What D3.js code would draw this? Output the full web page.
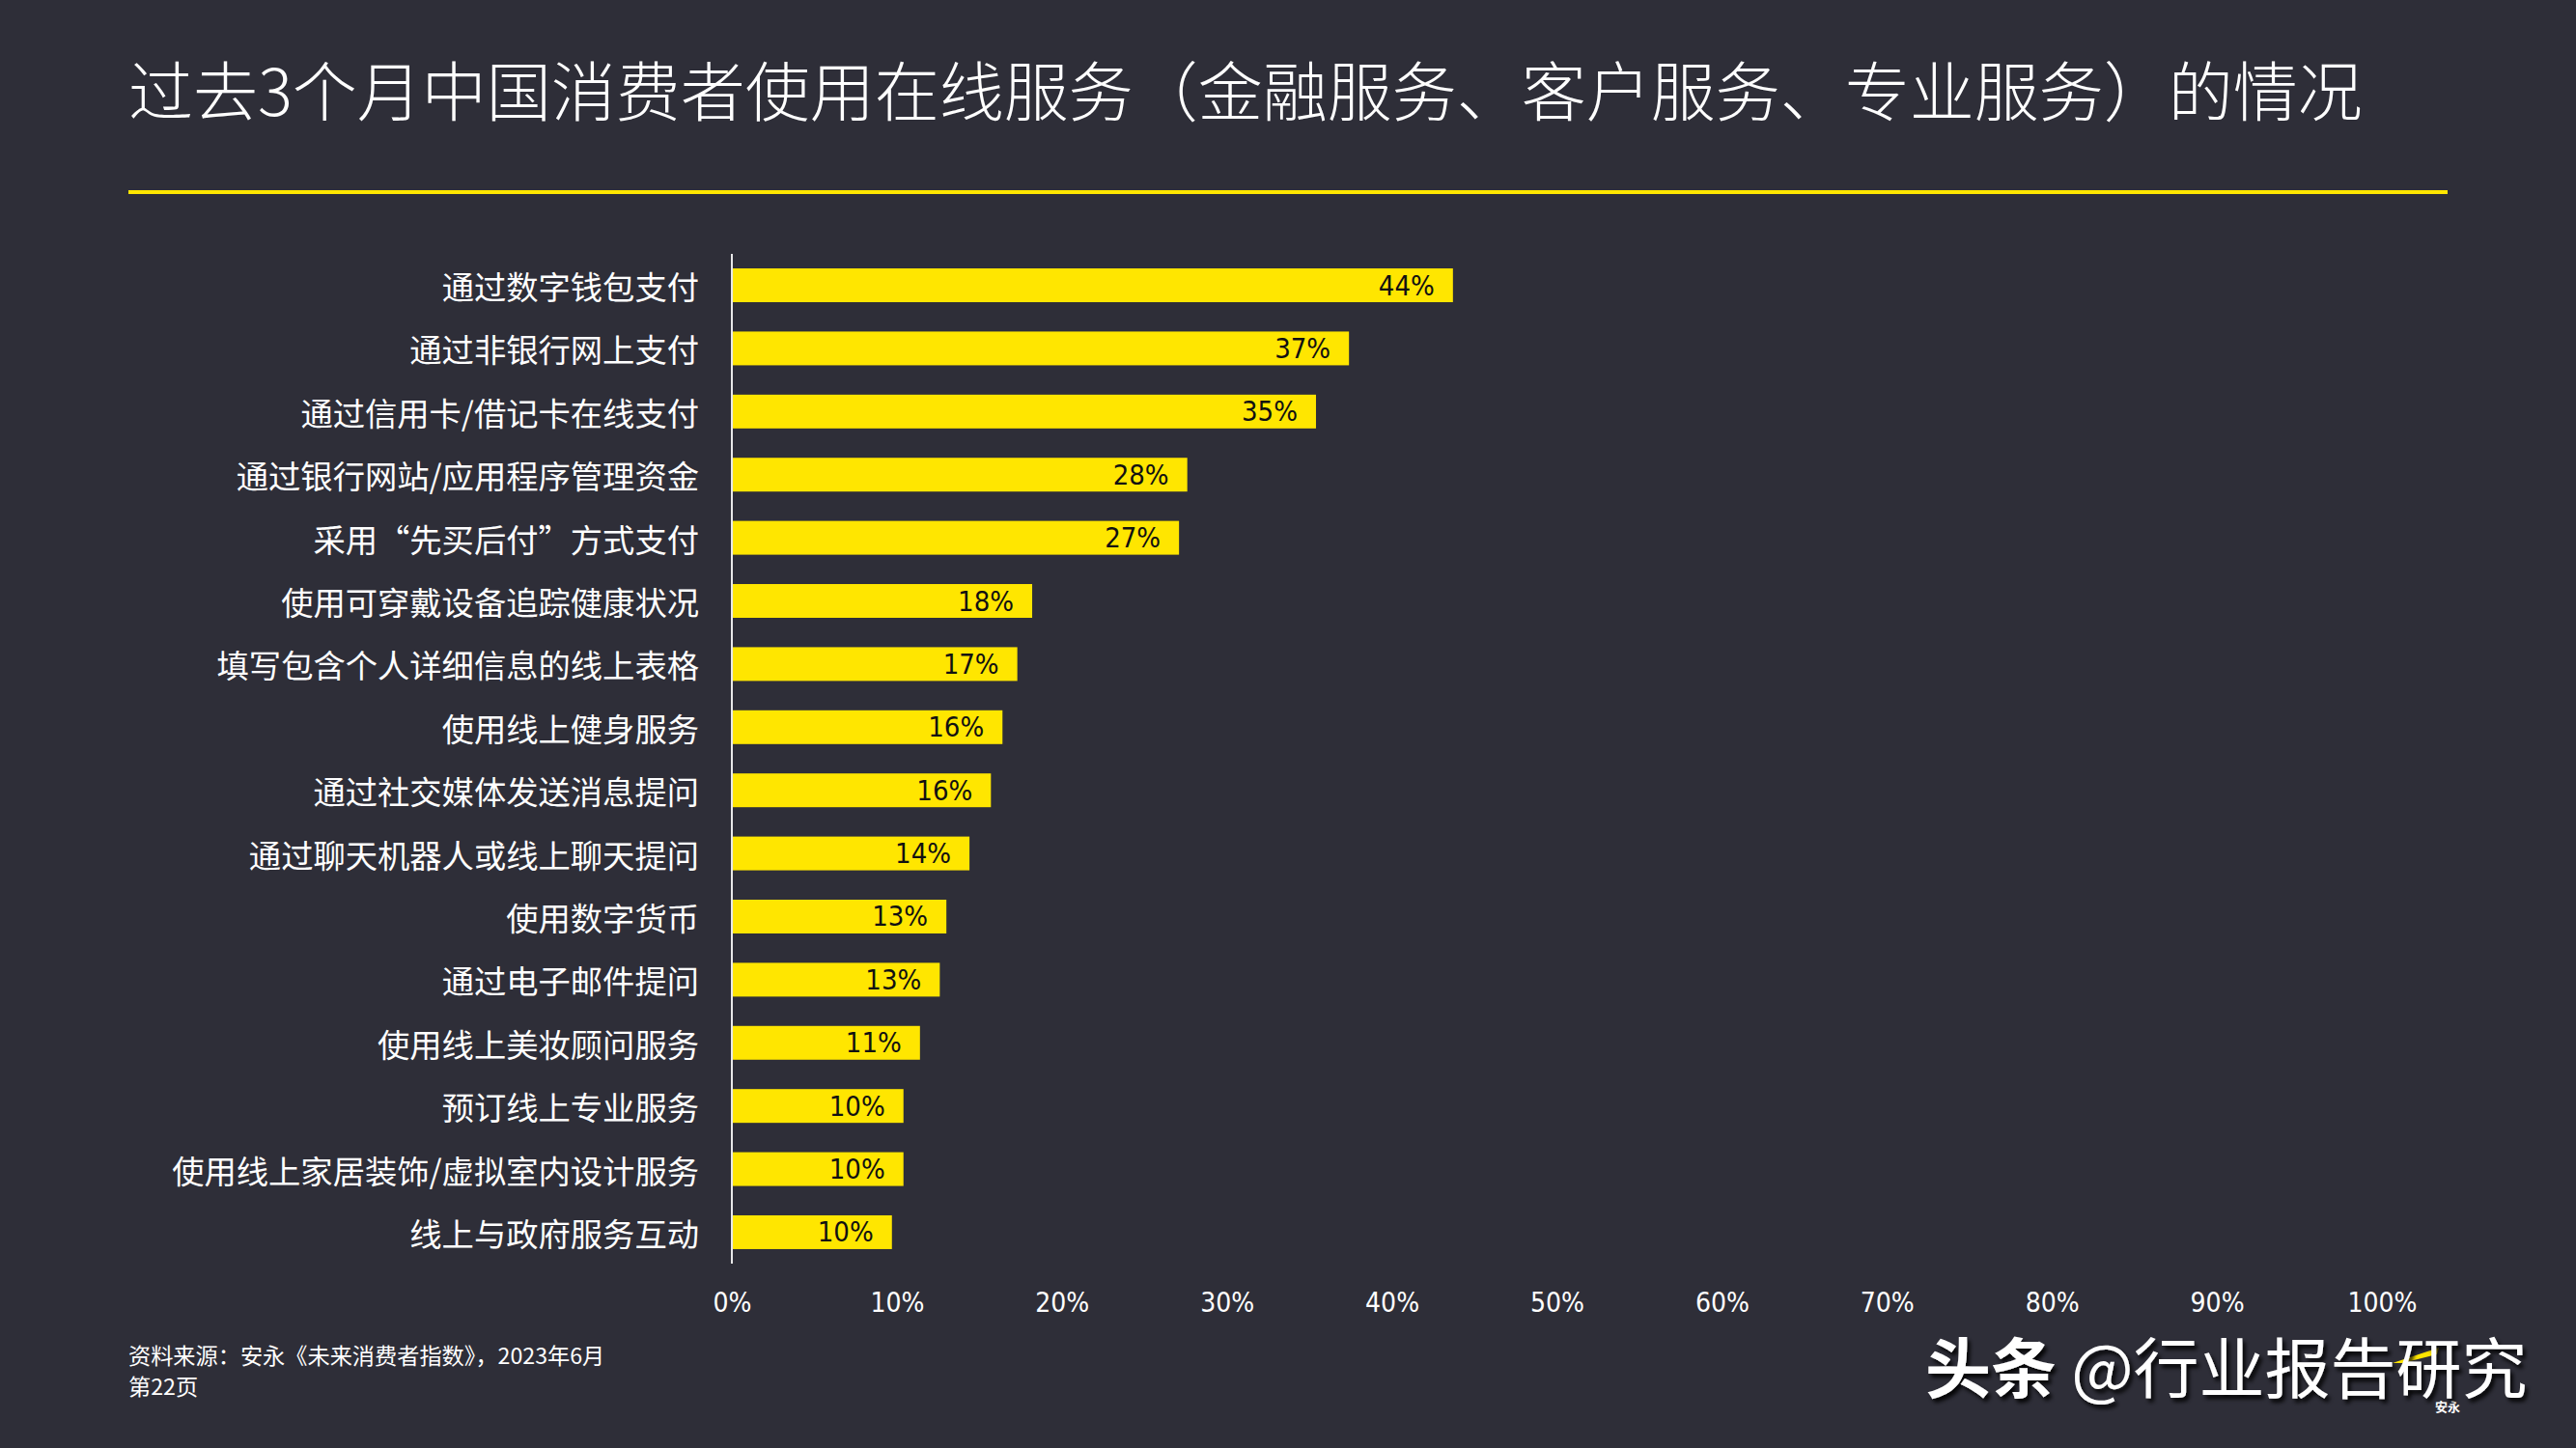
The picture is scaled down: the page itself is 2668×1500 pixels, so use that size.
<!DOCTYPE html>
<html>
<head>
<meta charset="utf-8">
<script src="https://cdn.jsdelivr.net/npm/d3@7"></script>
<style>
  html, body { margin: 0; padding: 0; background: #2E2E38; }
  svg { display: block; }
  .cjk { font-family: "Noto Sans CJK SC", "Noto Sans", sans-serif; }
  .num { font-family: "DejaVu Sans Condensed", "DejaVu Sans", "Noto Sans CJK SC", sans-serif; font-stretch: condensed; }
</style>
</head>
<body>
<svg id="chart" width="2668" height="1500"></svg>
<script>
const title = "过去3个月中国消费者使用在线服务（金融服务、客户服务、专业服务）的情况";
const categories = [
  "通过数字钱包支付",
  "通过非银行网上支付",
  "通过信用卡/借记卡在线支付",
  "通过银行网站/应用程序管理资金",
  "采用“先买后付”方式支付",
  "使用可穿戴设备追踪健康状况",
  "填写包含个人详细信息的线上表格",
  "使用线上健身服务",
  "通过社交媒体发送消息提问",
  "通过聊天机器人或线上聊天提问",
  "使用数字货币",
  "通过电子邮件提问",
  "使用线上美妆顾问服务",
  "预订线上专业服务",
  "使用线上家居装饰/虚拟室内设计服务",
  "线上与政府服务互动"
];
const values = [43.7, 37.4, 35.4, 27.6, 27.1, 18.2, 17.3, 16.4, 15.7, 14.4, 13.0, 12.6, 11.4, 10.4, 10.4, 9.7];
const tickValues = [0, 10, 20, 30, 40, 50, 60, 70, 80, 90, 100];
const sourceText = "资料来源：安永《未来消费者指数》，2023年6月";
const pageText = "第22页";
const watermarkBold = "头条";
const watermarkRest = " @行业报告研究";
const logoText = "安永";

const BG = "#2E2E38", YELLOW = "#FFE600";
const svg = d3.select("#chart");

svg.append("rect").attr("width", 2668).attr("height", 1500).attr("fill", BG);

// Title
svg.append("text").attr("class", "cjk")
  .attr("x", 133).attr("y", 120)
  .attr("fill", "#ffffff").attr("font-size", 67).attr("font-weight", 300)
  .text(title);

// Yellow rule
svg.append("line").attr("x1", 133).attr("x2", 2535).attr("y1", 199).attr("y2", 199)
  .attr("stroke", YELLOW).attr("stroke-width", 4);

// Scales
const x = d3.scaleLinear().domain([0, 100]).range([758, 2467]);
const y = d3.scaleBand().domain(categories).range([263, 1309]).paddingInner(0.465).paddingOuter(0.23);

// Bars
svg.append("g").selectAll("rect").data(values).join("rect")
  .attr("x", x(0))
  .attr("y", (d, i) => y(categories[i]))
  .attr("width", d => x(d) - x(0))
  .attr("height", y.bandwidth())
  .attr("fill", YELLOW);

// Bar labels
svg.append("g").selectAll("text").data(values).join("text")
  .attr("class", "num")
  .attr("x", d => x(d) - 19)
  .attr("y", (d, i) => y(categories[i]) + y.bandwidth() / 2)
  .attr("text-anchor", "end").attr("dominant-baseline", "central")
  .attr("font-size", 29).attr("fill", "#111111")
  .text(d => d3.format(".0f")(d) + "%");

// Category labels
svg.append("g").selectAll("text").data(categories).join("text")
  .attr("class", "cjk")
  .attr("x", 724)
  .attr("y", d => y(d) + y.bandwidth() / 2)
  .attr("text-anchor", "end").attr("dominant-baseline", "central")
  .attr("font-size", 33.3).attr("fill", "#ffffff")
  .text(d => d);

// Vertical axis line
svg.append("line").attr("x1", x(0)).attr("x2", x(0)).attr("y1", 263).attr("y2", 1309)
  .attr("stroke", "#e8e8e8").attr("stroke-width", 2);

// X axis (no line, no ticks)
const xAxis = d3.axisBottom(x).tickValues(tickValues).tickSize(0).tickFormat(d => d + "%");
const gx = svg.append("g").attr("transform", "translate(0,1334)").call(xAxis);
gx.select(".domain").remove();
gx.selectAll("text").attr("class", "num").attr("font-size", 28).attr("fill", "#ffffff")
  .attr("dy", null).attr("y", 15).attr("dominant-baseline", "central");

// Footer
svg.append("text").attr("class", "cjk").attr("x", 133).attr("y", 1413)
  .attr("font-size", 23.2).attr("fill", "#ffffff").text(sourceText);
svg.append("text").attr("class", "cjk").attr("x", 133).attr("y", 1445)
  .attr("font-size", 23.2).attr("fill", "#ffffff").text(pageText);

// Small logo remnants (partly hidden under the watermark)
svg.append("polygon").attr("points", "2478,1412 2526,1396 2524,1403 2488,1412").attr("fill", YELLOW);
svg.append("text").attr("class", "cjk").attr("x", 2522).attr("y", 1462)
  .attr("font-size", 13).attr("font-weight", 700).attr("fill", "#ffffff").text(logoText);

// Watermark
const defs = svg.append("defs");
const f = defs.append("filter").attr("id", "sh").attr("x", "-10%").attr("y", "-30%").attr("width", "120%").attr("height", "160%");
f.append("feDropShadow").attr("dx", 3).attr("dy", 4).attr("stdDeviation", 2).attr("flood-color", "#000").attr("flood-opacity", 0.9);
const wm = svg.append("text").attr("class", "cjk").attr("x", 1994).attr("y", 1443)
  .attr("font-size", 68).attr("fill", "#ffffff").attr("filter", "url(#sh)");
wm.append("tspan").attr("font-weight", 700).text(watermarkBold);
wm.append("tspan").attr("font-weight", 400).text(watermarkRest);
</script>
</body>
</html>
